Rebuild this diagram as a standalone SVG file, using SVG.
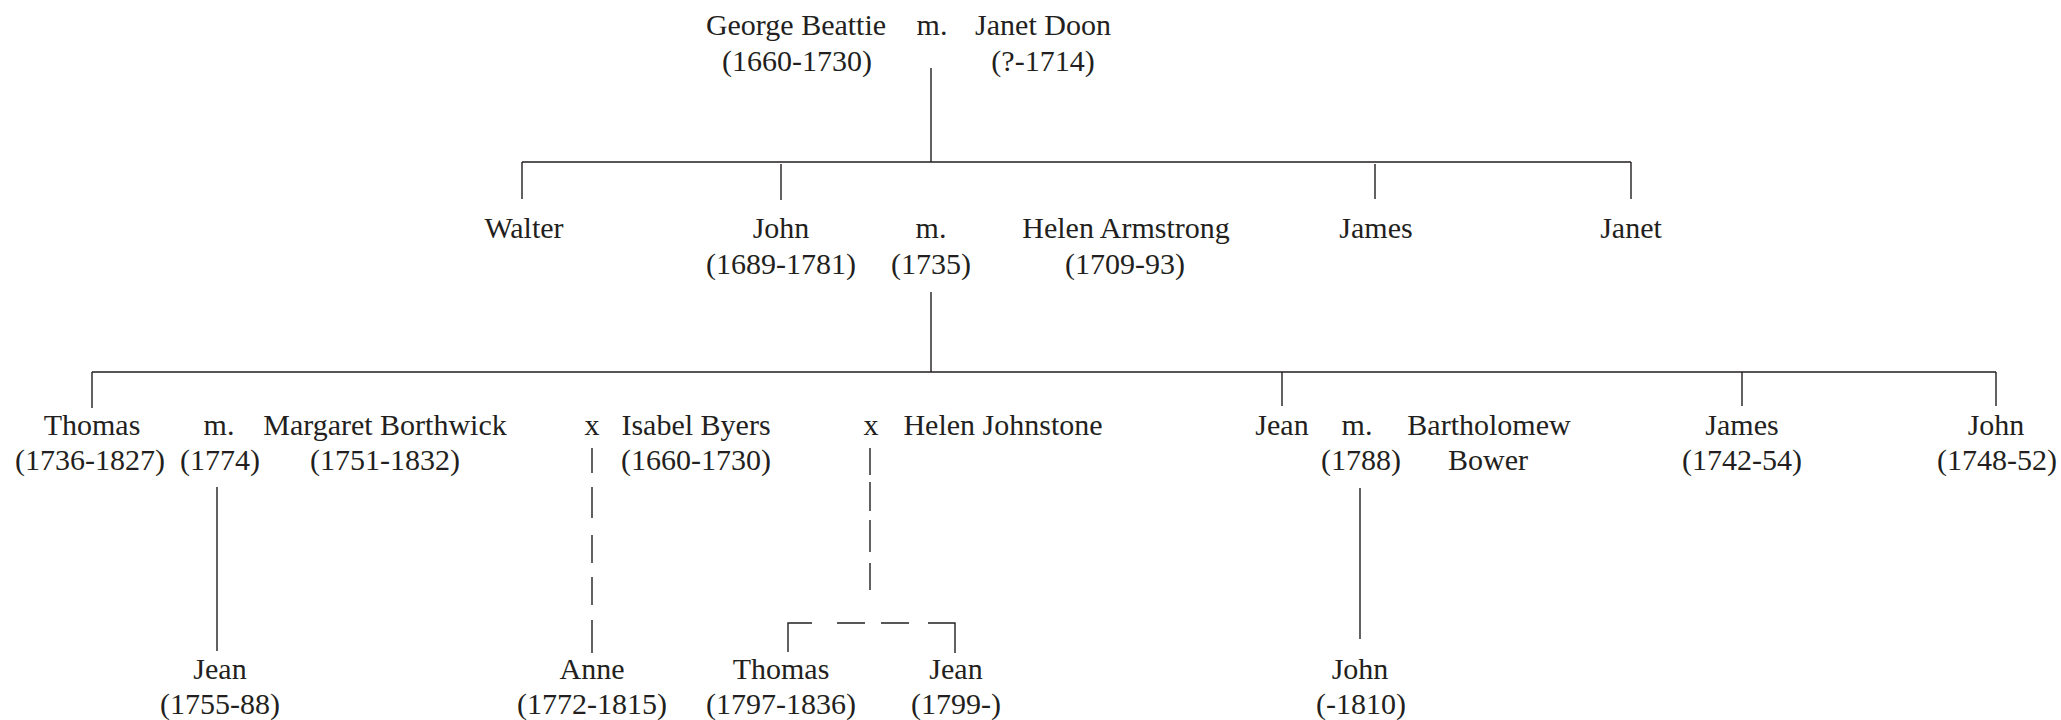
<svg xmlns="http://www.w3.org/2000/svg" width="2061" height="720" viewBox="0 0 2061 720">
<style>
text{font-family:"Liberation Serif","Times New Roman",serif;font-size:30px;fill:#231f20;text-anchor:middle}
.ln{stroke:#231f20;stroke-width:1.4;fill:none}
</style>
<rect width="2061" height="720" fill="#fff"/>
<g id="connectors" class="ln">
<path d="M931 68V162M522 162H1631M522 162V199M781 164V200M1375 164V199M1631 162V199"/>
<path d="M931 292V372M92 372H1996M92 372V408M1282 372V406M1742 372V406M1996 372V406"/>
<path d="M217 487V651M1360 488V639"/>
<path d="M592 448V473M592 487V518M592 535V563M592 577V605M592 620V653"/>
<path d="M870 448V475M870 482V511M870 520V552M870 563V590"/>
<path d="M788 652V623H812M837 623H865M881 623H909M928 623H955V653"/>
</g>
<g id="george"><text x="796" y="35">George Beattie</text><text x="797" y="71">(1660-1730)</text></g>
<g id="m1"><text x="932" y="35">m.</text></g>
<g id="janet-doon"><text x="1043" y="35">Janet Doon</text><text x="1043" y="71">(?-1714)</text></g>
<g id="walter"><text x="524" y="238">Walter</text></g>
<g id="john"><text x="781" y="238">John</text><text x="781" y="274">(1689-1781)</text></g>
<g id="m2"><text x="931" y="238">m.</text><text x="931" y="274">(1735)</text></g>
<g id="helen-armstrong"><text x="1126" y="238">Helen Armstrong</text><text x="1125" y="274">(1709-93)</text></g>
<g id="james1"><text x="1376" y="238">James</text></g>
<g id="janet"><text x="1631" y="238">Janet</text></g>
<g id="thomas"><text x="92" y="435">Thomas</text><text x="90" y="470">(1736-1827)</text></g>
<g id="m3"><text x="219" y="435">m.</text><text x="220" y="470">(1774)</text></g>
<g id="margaret"><text x="385" y="435">Margaret Borthwick</text><text x="385" y="470">(1751-1832)</text></g>
<g id="x1"><text x="592" y="435">x</text></g>
<g id="isabel"><text x="696" y="435">Isabel Byers</text><text x="696" y="470">(1660-1730)</text></g>
<g id="x2"><text x="871" y="435">x</text></g>
<g id="helen-johnstone"><text x="1003" y="435">Helen Johnstone</text></g>
<g id="jean"><text x="1282" y="435">Jean</text></g>
<g id="m4"><text x="1357" y="435">m.</text><text x="1361" y="470">(1788)</text></g>
<g id="bartholomew"><text x="1489" y="435">Bartholomew</text><text x="1488" y="470">Bower</text></g>
<g id="james2"><text x="1742" y="435">James</text><text x="1742" y="470">(1742-54)</text></g>
<g id="john2"><text x="1996" y="435">John</text><text x="1997" y="470">(1748-52)</text></g>
<g id="jean2"><text x="220" y="679">Jean</text><text x="220" y="714">(1755-88)</text></g>
<g id="anne"><text x="592" y="679">Anne</text><text x="592" y="714">(1772-1815)</text></g>
<g id="thomas2"><text x="781" y="679">Thomas</text><text x="781" y="714">(1797-1836)</text></g>
<g id="jean3"><text x="956" y="679">Jean</text><text x="956" y="714">(1799-)</text></g>
<g id="john3"><text x="1360" y="679">John</text><text x="1361" y="714">(-1810)</text></g>
</svg>
